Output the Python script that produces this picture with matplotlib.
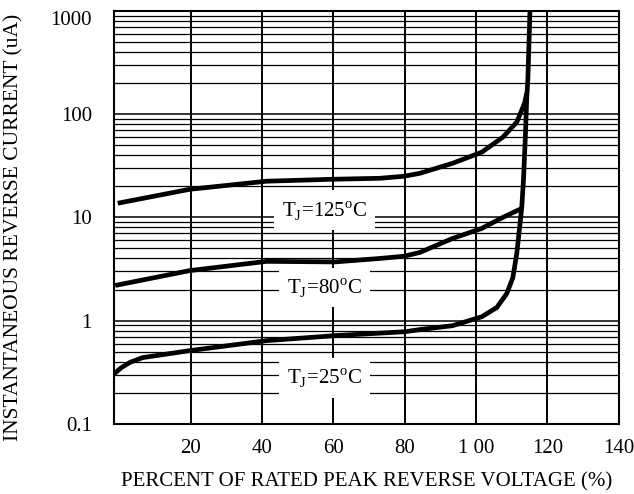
import matplotlib.pyplot as plt
import matplotlib.ticker as mticker

plt.rcParams["font.family"] = ["Liberation Serif", "DejaVu Serif"]
plt.rcParams["mathtext.fontset"] = "custom"
plt.rcParams["mathtext.rm"] = "Liberation Serif"

# Curves (percent of VRRM, reverse current in uA)
x_25 = [-1.5, 0.5, 3, 6.5, 19.7, 41.3, 60.4, 80, 84.2, 93.4, 101.6, 105.8, 108.6, 110.3,
        111.4, 112.2, 112.8, 113.3, 113.8, 114.2, 114.5, 115.1]
y_25 = [0.305, 0.35, 0.395, 0.438, 0.512, 0.64, 0.715, 0.78, 0.818, 0.893, 1.09, 1.34, 1.83, 2.61,
        4.47, 8.0, 12.5, 24, 60, 146, 214, 1000]

x_80 = [-1.2, 19.7, 41.3, 60.4, 73, 79.7, 84.2, 93.4, 101.6, 107.5, 112.8]
y_80 = [2.19, 3.05, 3.75, 3.7, 4.0, 4.2, 4.57, 6.25, 7.82, 10.0, 12.2]

x_125 = [-0.5, 19.7, 41.3, 60, 73, 79.7, 84.2, 93.4, 101.6, 107.5, 111.4, 113.6, 114.2]
y_125 = [13.7, 18.7, 22.4, 23.4, 23.9, 25.0, 26.7, 33.4, 42.8, 59.8, 83.6, 128, 160]

labels = [r"T$_\mathregular{J}$=25$^\mathregular{o}$C",
          r"T$_\mathregular{J}$=80$^\mathregular{o}$C",
          r"T$_\mathregular{J}$=125$^\mathregular{o}$C"]
label_x = [57.5, 57.5, 57.5]
label_y = [0.28, 2.09, 11.7]

x_ticks = [20, 40, 60, 80, 100, 120, 140]
x_tick_labels = ["20", "40", "60", "80", "1 00", "120", "140"]
y_ticks = [0.1, 1, 10, 100, 1000]
y_tick_labels = ["0.1", "1", "10", "100", "1000"]

fig = plt.figure(figsize=(6.34, 4.94), dpi=100)
ax = fig.add_axes([0.180, 0.142, 0.796, 0.836])

ax.set_yscale("log")
ax.set_xlim(-1.5, 140)
ax.set_ylim(0.1, 1000)

# grid
ax.yaxis.set_minor_locator(mticker.LogLocator(base=10, subs=range(2, 10)))
ax.yaxis.set_minor_formatter(mticker.NullFormatter())
ax.grid(True, which="major", axis="y", color="black", linewidth=1.1)
ax.grid(True, which="minor", axis="y", color="black", linewidth=0.9)
ax.grid(True, which="major", axis="x", color="black", linewidth=1.4)
ax.set_axisbelow(True)

for x, y in [(x_25, y_25), (x_80, y_80), (x_125, y_125)]:
    ax.plot(x, y, color="black", linewidth=3.4, solid_capstyle="butt",
            solid_joinstyle="round", zorder=4)

for lab, lx, ly in zip(labels, label_x, label_y):
    ax.text(lx, ly, lab, ha="center", va="center", fontsize=15, zorder=3,
            bbox=dict(facecolor="white", edgecolor="none", pad=6))

ax.set_xticks(x_ticks)
ax.set_xticklabels(x_tick_labels)
ax.set_yticks(y_ticks)
ax.set_yticklabels(y_tick_labels)
ax.tick_params(axis="both", which="both", length=0, labelsize=15)
ax.tick_params(axis="x", pad=11)
ax.tick_params(axis="y", pad=16)
# top label sits inside the frame in the original
ax.get_yticklabels()[-1].set_va("top")

for s in ax.spines.values():
    s.set_linewidth(1.5)

ax.set_xlabel("PERCENT OF RATED PEAK REVERSE VOLTAGE (%)", fontsize=15, labelpad=10)
ax.set_ylabel("INSTANTANEOUS REVERSE CURRENT (uA)", fontsize=15.5)
ax.yaxis.set_label_coords(-0.18, 0.475)

fig.savefig("out.png", dpi=100)
